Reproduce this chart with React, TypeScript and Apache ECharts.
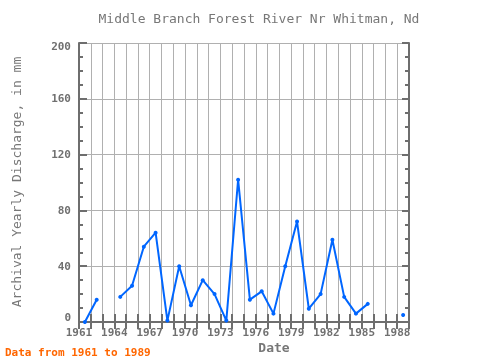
import React, { useEffect, useRef } from 'react';
import * as echarts from 'echarts';

const years = [1961, 1962, 1963, 1964, 1965, 1966, 1967, 1968, 1969, 1970, 1971, 1972, 1973, 1974, 1975, 1976, 1977, 1978, 1979, 1980, 1981, 1982, 1983, 1984, 1985, 1986, 1987, 1988];
const discharge: (number | null)[] = [0, 16, null, 18, 26, 54, 64, 1, 40, 12, 30, 20, 1, 102, 16, 22, 6, 40, 72, 9.5, 20, 59, 18, 6, 13, null, null, 5];
const xLabelYears = [1961, 1964, 1967, 1970, 1973, 1976, 1979, 1982, 1985, 1988];
const yTicks = [0, 40, 80, 120, 160, 200];

const titleText = 'Middle Branch Forest River Nr Whitman, Nd';
const xName = 'Date';
const yName = 'Archival Yearly Discharge, in mm';
const footText = 'Data from 1961 to 1989';

const FONT = "'DejaVu Sans Mono', monospace";
const AXIS = '#6e6e6e';
const LABEL = '#707070';
const GRID = '#b0b0b0';

export default function App() {
  const ref = useRef<HTMLDivElement>(null);
  useEffect(() => {
    if (!ref.current) return;
    const chart = echarts.init(ref.current, null, { renderer: 'svg' });
    const seriesData = years.map((y, i) => [y + 0.5, discharge[i]]);
    const xMin = years[0];
    const xMax = years[years.length - 1] + 1;
    const yMin = yTicks[0];
    const yMax = yTicks[yTicks.length - 1];
    const yInt = yTicks[1] - yTicks[0];
    const labelFont = { color: LABEL, fontFamily: FONT, fontWeight: 'bold' as const, fontSize: 11 };
    chart.setOption({
      animation: false,
      grid: { left: 79, top: 43, width: 330, height: 279, containLabel: false },
      xAxis: [
        {
          type: 'value', min: xMin, max: xMax, interval: 1, position: 'bottom',
          axisLine: { show: true, lineStyle: { color: AXIS, width: 2 } },
          axisTick: { show: true, inside: true, length: 8, lineStyle: { color: AXIS, width: 2 } },
          axisLabel: {
            show: true, hideOverlap: false, margin: 5, ...labelFont,
            formatter: (v: number) => (xLabelYears.includes(v) ? String(v) : ''),
          },
          splitLine: { show: true, lineStyle: { color: GRID, width: 1 } },
        },
        {
          type: 'value', min: xMin, max: xMax, interval: 1, position: 'top',
          axisLine: { show: true, lineStyle: { color: AXIS, width: 2 } },
          axisTick: { show: true, inside: true, length: 7, lineStyle: { color: AXIS, width: 2 } },
          axisLabel: { show: false },
          splitLine: { show: false },
        },
      ],
      yAxis: [
        {
          type: 'value', min: yMin, max: yMax, interval: yInt, position: 'left',
          axisLine: { show: true, lineStyle: { color: AXIS, width: 2 } },
          axisTick: { show: true, inside: true, length: 8, lineStyle: { color: AXIS, width: 2 } },
          minorTick: { show: true, splitNumber: 4, length: 4, lineStyle: { color: AXIS, width: 2 } },
          axisLabel: {
            show: true, margin: 8, hideOverlap: false, ...labelFont,
            formatter: (v: number) => (v === yMin ? `{lo|${v}}` : v === yMax ? `{hi|${v}}` : String(v)),
            rich: {
              lo: { ...labelFont, padding: [0, 0, 9, 0] },
              hi: { ...labelFont, padding: [7, 0, 0, 0] },
            },
          },
          splitLine: { show: true, lineStyle: { color: GRID, width: 1 } },
        },
        {
          type: 'value', min: yMin, max: yMax, interval: yInt, position: 'right',
          axisLine: { show: true, lineStyle: { color: AXIS, width: 2 } },
          axisTick: { show: true, inside: true, length: 7, lineStyle: { color: AXIS, width: 2 } },
          minorTick: { show: true, splitNumber: 4, length: 4, lineStyle: { color: AXIS, width: 2 } },
          axisLabel: { show: false },
          splitLine: { show: false },
        },
      ],
      series: [
        {
          type: 'line', xAxisIndex: 0, yAxisIndex: 0, data: seriesData, connectNulls: false,
          symbol: 'circle', symbolSize: 4, showSymbol: true,
          lineStyle: { color: '#0066ff', width: 2 },
          itemStyle: { color: '#0066ff' },
        },
      ],
      graphic: [
        { type: 'text', x: 259, y: 18, style: { text: titleText, fill: '#777', font: `13px ${FONT}`, textAlign: 'center', textVerticalAlign: 'middle' } },
        { type: 'text', x: 274, y: 347, style: { text: xName, fill: '#777', font: `bold 13px ${FONT}`, textAlign: 'center', textVerticalAlign: 'middle' } },
        { type: 'text', x: 16, y: 182, rotation: Math.PI / 2, style: { text: yName, fill: '#777', font: `13px ${FONT}`, textAlign: 'center', textVerticalAlign: 'middle' } },
        { type: 'text', x: 5, y: 352, style: { text: footText, fill: '#ff6600', font: `bold 11px ${FONT}`, textAlign: 'left', textVerticalAlign: 'middle' } },
      ],
    });
    return () => chart.dispose();
  }, []);
  return <div ref={ref} style={{ position: 'fixed', left: 0, top: 0, width: 480, height: 360 }} />;
}
